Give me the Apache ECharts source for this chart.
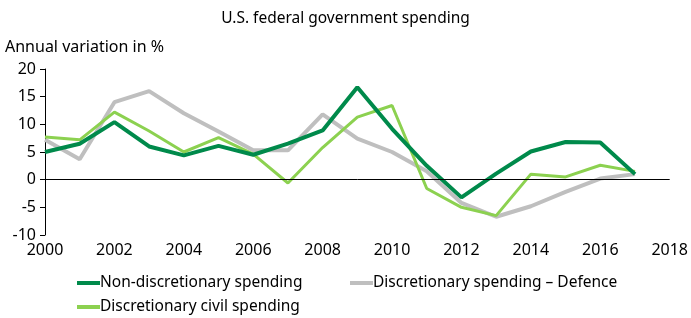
<!DOCTYPE html>
<html>
<head>
<meta charset="utf-8">
<script src="https://cdn.jsdelivr.net/npm/echarts@6.0.0/dist/echarts.min.js"></script>
<style>
html, body { margin: 0; padding: 0; background: #fff; }
#chart { width: 691px; height: 318px; }
</style>
</head>
<body>
<div id="chart"></div>
<script>
var years = [2000, 2001, 2002, 2003, 2004, 2005, 2006, 2007, 2008,
	2009, 2010, 2011, 2012, 2013, 2014, 2015, 2016, 2017];
var nonDiscretionary = [5.0, 6.5, 10.4, 6.0, 4.4, 6.1, 4.5, 6.5, 8.9,
	16.7, 9.2, 2.5, -3.2, 1.1, 5.1, 6.8, 6.7, 1.0];
var defence = [7.2, 3.7, 14.0, 16.0, 12.0, 8.7, 5.3, 5.3, 11.8,
	7.4, 5.0, 1.5, -4.2, -6.7, -4.8, -2.2, 0.2, 1.0];
var civil = [7.7, 7.2, 12.2, 8.8, 5.0, 7.6, 4.6, -0.6, 5.8,
	11.3, 13.4, -1.6, -5.0, -6.5, 1.0, 0.5, 2.6, 1.5];
var seriesNames = ['Non-discretionary spending', 'Discretionary spending \u2013 Defence', 'Discretionary civil spending'];

var font = 'Noto Sans';

function pairs(vals) {
	var out = [];
	for (var i = 0; i < years.length; i++) {
		out.push([years[i], vals[i]]);
	}
	return out;
}

var chart = echarts.init(document.getElementById('chart'));

function legendAt(name, left, top) {
	return {
		data: [name],
		left: left,
		top: top,
		icon: 'rect',
		itemWidth: 23,
		itemHeight: 4,
		itemGap: 0,
		padding: 0,
		textStyle: { fontFamily: font, fontSize: 15.5, color: '#000', padding: [0, 0, 0, -5] }
	};
}

var option = {
	animation: false,
	title: {
		text: 'U.S. federal government spending',
		left: 'center',
		top: 6,
		textStyle: { fontFamily: font, fontSize: 15.5, fontWeight: 'normal', color: '#000' }
	},
	legend: [
		legendAt(seriesNames[0], 77, 275),
		legendAt(seriesNames[1], 350, 275),
		legendAt(seriesNames[2], 77, 299)
	],
	grid: { left: 45, right: 18, top: 69, bottom: 83 },
	xAxis: {
		type: 'value',
		min: 2000,
		max: 2018,
		interval: 2,
		axisLine: { show: false },
		axisTick: { show: false },
		splitLine: { show: false },
		axisLabel: {
			fontFamily: font, fontSize: 16, color: '#000', margin: 7,
			formatter: function (v) { return String(v); }
		}
	},
	yAxis: {
		type: 'value',
		min: -10,
		max: 20,
		interval: 5,
		name: 'Annual variation in %',
		nameLocation: 'end',
		nameGap: 14,
		nameTextStyle: { fontFamily: font, fontSize: 16, color: '#000', align: 'left', padding: [0, 0, 0, -40] },
		axisLine: { show: true, lineStyle: { color: '#000', width: 1 } },
		axisTick: { show: true, length: 5, lineStyle: { color: '#000' } },
		splitLine: { show: false },
		axisLabel: { fontFamily: font, fontSize: 16, color: '#000', margin: 9 }
	},
	series: [
		{
			name: seriesNames[1],
			type: 'line',
			data: pairs(defence),
			showSymbol: false,
			color: '#BFBFBF',
			lineStyle: { width: 4 },
			z: 2
		},
		{
			name: seriesNames[2],
			type: 'line',
			data: pairs(civil),
			showSymbol: false,
			color: '#8CD150',
			lineStyle: { width: 3 },
			z: 3
		},
		{
			name: seriesNames[0],
			type: 'line',
			data: pairs(nonDiscretionary),
			showSymbol: false,
			color: '#008A4B',
			lineStyle: { width: 4 },
			z: 4,
			markLine: {
				silent: true,
				symbol: 'none',
				label: { show: false },
				lineStyle: { color: '#000', width: 1, type: 'solid' },
				data: [{ yAxis: 0 }]
			}
		}
	]
};
chart.setOption(option);
</script>
</body>
</html>
